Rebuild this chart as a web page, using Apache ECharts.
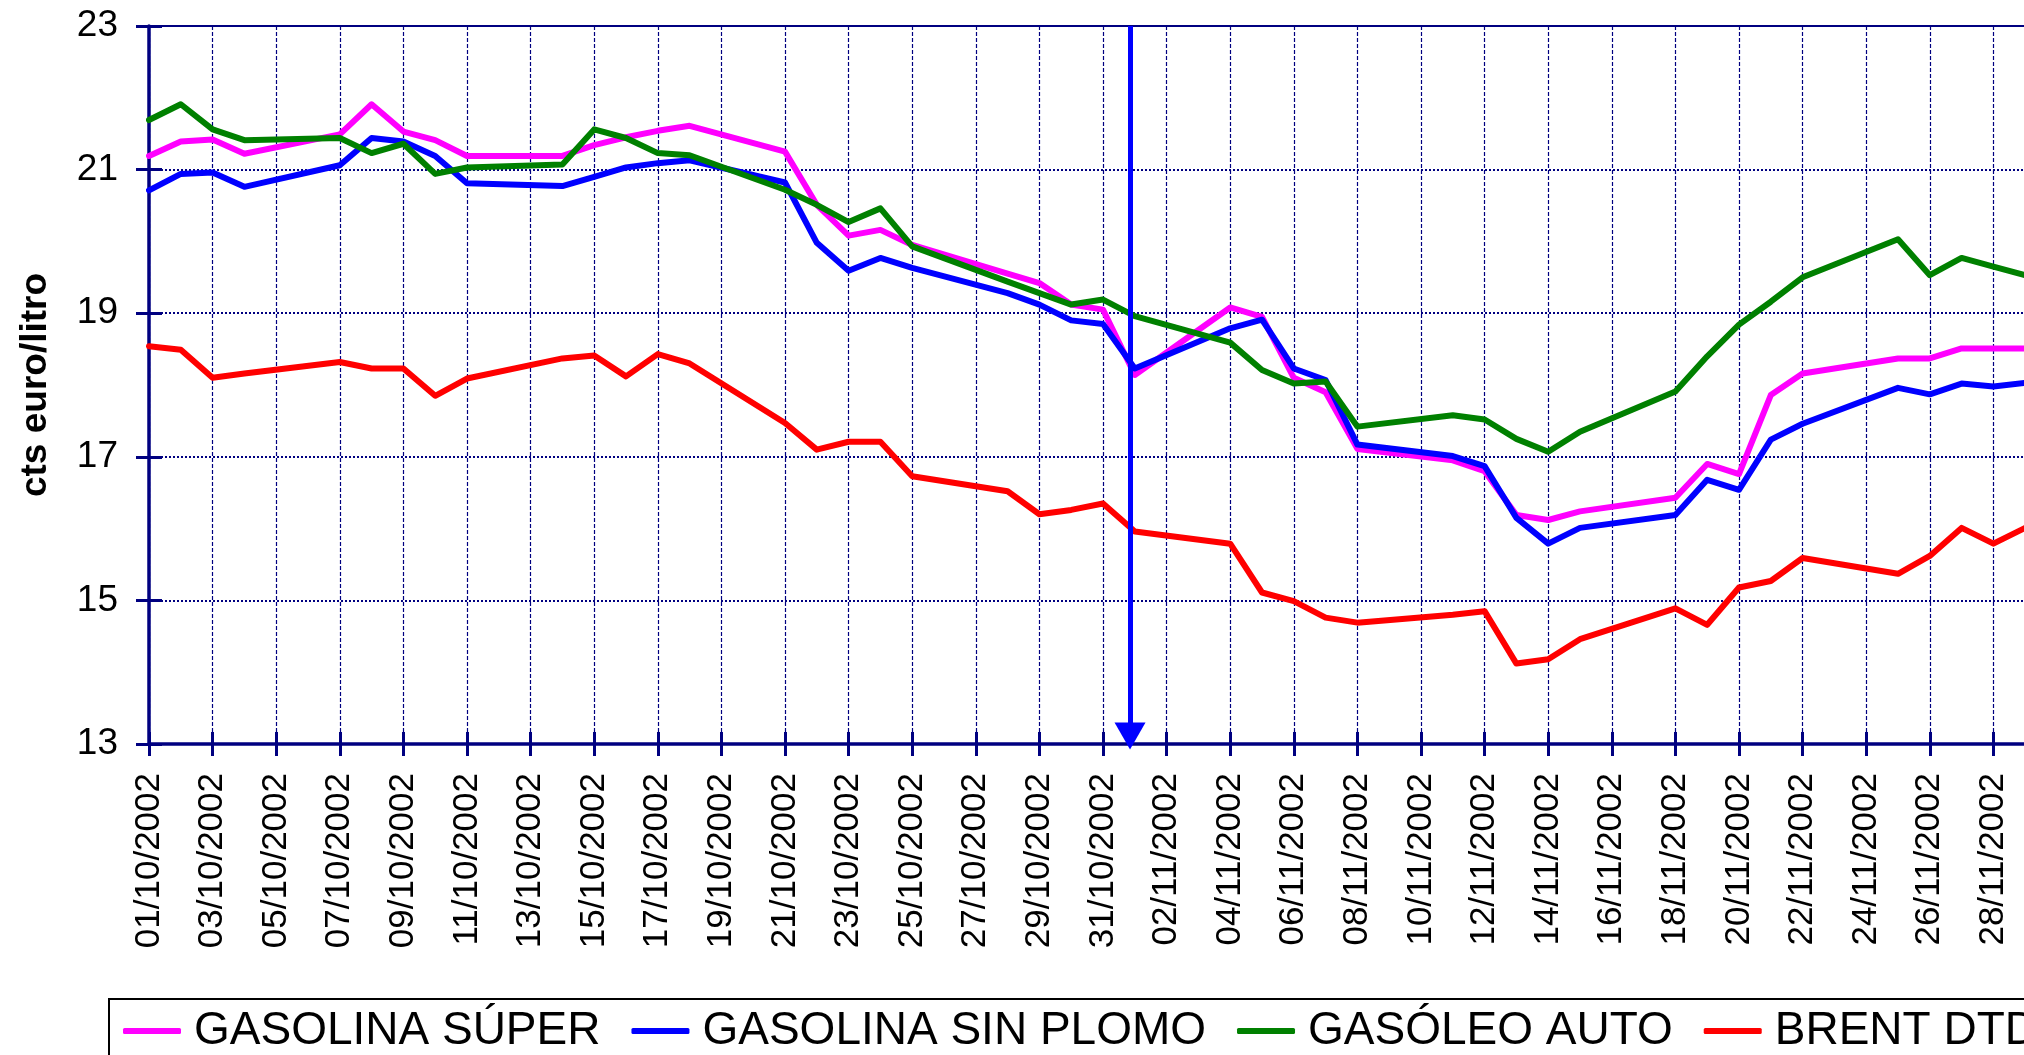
<!DOCTYPE html>
<html>
<head>
<meta charset="utf-8">
<script src="https://cdn.jsdelivr.net/npm/echarts@6/dist/echarts.min.js"></script>
<style>
  html, body { margin: 0; padding: 0; background: #fff; }
  #chart { width: 2024px; height: 1055px; }
</style>
</head>
<body>
<div id="chart"></div>
<script>
// fechas con cotización (días hábiles)
var fechas = [
  '01/10/2002','02/10/2002','03/10/2002','04/10/2002',
  '07/10/2002','08/10/2002','09/10/2002','10/10/2002','11/10/2002',
  '14/10/2002','15/10/2002','16/10/2002','17/10/2002','18/10/2002',
  '21/10/2002','22/10/2002','23/10/2002','24/10/2002','25/10/2002',
  '28/10/2002','29/10/2002','30/10/2002','31/10/2002','01/11/2002',
  '04/11/2002','05/11/2002','06/11/2002','07/11/2002','08/11/2002',
  '11/11/2002','12/11/2002','13/11/2002','14/11/2002','15/11/2002',
  '18/11/2002','19/11/2002','20/11/2002','21/11/2002','22/11/2002',
  '25/11/2002','26/11/2002','27/11/2002','28/11/2002','29/11/2002'
];

var gasolinaSuper = [
  21.19, 21.39, 21.42, 21.22,
  21.49, 21.91, 21.53, 21.41, 21.19,
  21.19, 21.34, 21.45, 21.54, 21.61,
  21.25, 20.51, 20.08, 20.16, 19.95,
  19.55, 19.42, 19.12, 19.05, 18.14,
  19.08, 18.95, 18.10, 17.90, 17.11,
  16.95, 16.80, 16.19, 16.12, 16.24,
  16.43, 16.90, 16.76, 17.86, 18.16,
  18.37, 18.37, 18.51, 18.51, 18.51
];

var gasolinaSinPlomo = [
  20.71, 20.94, 20.96, 20.76,
  21.06, 21.44, 21.39, 21.19, 20.81,
  20.77, 20.90, 21.03, 21.09, 21.13,
  20.82, 19.98, 19.59, 19.77, 19.63,
  19.28, 19.12, 18.90, 18.85, 18.23,
  18.79, 18.91, 18.23, 18.07, 17.17,
  17.01, 16.87, 16.15, 15.79, 16.01,
  16.19, 16.68, 16.54, 17.24, 17.46,
  17.96, 17.87, 18.02, 17.98, 18.03
];

var gasoleoAuto = [
  21.69, 21.91, 21.56, 21.41,
  21.44, 21.23, 21.36, 20.94, 21.03,
  21.07, 21.56, 21.44, 21.23, 21.20,
  20.72, 20.51, 20.27, 20.46, 19.93,
  19.44, 19.28, 19.12, 19.19, 18.96,
  18.59, 18.21, 18.02, 18.05, 17.42,
  17.58, 17.52, 17.25, 17.07, 17.35,
  17.91, 18.40, 18.84, 19.16, 19.50,
  20.03, 19.53, 19.77, 19.65, 19.53
];

var brentDtd = [
  18.54, 18.49, 18.10, 18.16,
  18.32, 18.23, 18.23, 17.85, 18.09,
  18.37, 18.41, 18.12, 18.43, 18.30,
  17.47, 17.10, 17.21, 17.21, 16.73,
  16.52, 16.20, 16.26, 16.35, 15.96,
  15.79, 15.11, 14.99, 14.76, 14.69,
  14.80, 14.85, 14.12, 14.18, 14.46,
  14.89, 14.66, 15.18, 15.27, 15.59,
  15.37, 15.62, 16.01, 15.79, 16.01
];

// etiquetas del eje X (cada dos días)
var etiquetasX = [
  '01/10/2002','03/10/2002','05/10/2002','07/10/2002','09/10/2002','11/10/2002',
  '13/10/2002','15/10/2002','17/10/2002','19/10/2002','21/10/2002','23/10/2002',
  '25/10/2002','27/10/2002','29/10/2002','31/10/2002','02/11/2002','04/11/2002',
  '06/11/2002','08/11/2002','10/11/2002','12/11/2002','14/11/2002','16/11/2002',
  '18/11/2002','20/11/2002','22/11/2002','24/11/2002','26/11/2002','28/11/2002',
  '30/11/2002'
];

var nombres = ['GASOLINA SÚPER', 'GASOLINA SIN PLOMO', 'GASÓLEO AUTO', 'BRENT DTD'];
var colores = ['#ff00ff', '#0000ff', '#008000', '#ff0000'];

// día de la flecha (01/11/2002, dibujada a mano en el original)
var diaFlecha = 30.85;

var fuente = 'Liberation Sans, Arial, sans-serif';
var azulEje = '#000080';

function diaIndice(s) {
    var p = s.split('/');
    return Math.round((Date.UTC(+p[2], +p[1] - 1, +p[0]) - Date.UTC(2002, 9, 1)) / 86400000);
}

function pares(valores) {
    return fechas.map(function (f, i) { return [diaIndice(f), valores[i]]; });
}

var chart = echarts.init(document.getElementById('chart'));

var lineas = [gasolinaSuper, gasolinaSinPlomo, gasoleoAuto, brentDtd].map(function (v, i) {
    return {
        name: nombres[i],
        type: 'line',
        data: pares(v),
        showSymbol: false,
        symbol: 'none',
        color: colores[i],
        lineStyle: { color: colores[i], width: 6, join: 'round', cap: 'round' },
        emphasis: { disabled: true },
        z: 3
    };
});

lineas[3].markLine = {
    silent: true,
    animation: false,
    label: { show: false },
    lineStyle: { color: '#0000ff', width: 5, type: 'solid' },
    symbol: ['none', 'triangle'],
    data: [[
        { coord: [diaFlecha, 23], symbol: 'none' },
        { coord: [diaFlecha, 13.11], symbol: 'triangle', symbolSize: [31, 27] }
    ]],
    z: 10
};

option = {
    animation: false,
    backgroundColor: '#fff',
    grid: [
        { left: 149, right: -33, top: 26, bottom: 311, show: true, outerBoundsMode: 'none',
          borderColor: azulEje, borderWidth: 2, backgroundColor: 'transparent' },
        { left: 149, right: -33, top: 26, bottom: 311, outerBoundsMode: 'none' }
    ],
    legend: {
        data: nombres,
        left: 109,
        top: 999,
        width: 2400,
        orient: 'horizontal',
        selectedMode: false,
        icon: 'roundRect',
        itemWidth: 58,
        itemHeight: 6,
        itemGap: 31,
        padding: [6, 10, 6, 14],
        borderColor: '#000',
        borderWidth: 2,
        textStyle: { fontSize: 46, color: '#000', fontFamily: fuente, lineHeight: 52, padding: [0, 0, 0, 8] }
    },
    xAxis: [
        {
            type: 'value',
            gridIndex: 0,
            min: 0,
            max: 60,
            interval: 2,
            axisLine: { show: true, lineStyle: { color: azulEje, width: 3.5 } },
            axisTick: { show: true, inside: false, length: 12, lineStyle: { color: azulEje, width: 3 } },
            axisLabel: {
                rotate: 90,
                margin: 29,
                fontSize: 35,
                color: '#000',
                fontFamily: fuente,
                formatter: function (v) { return etiquetasX[Math.round(v / 2)] || ''; }
            },
            splitLine: { show: true, lineStyle: { color: azulEje, width: 1.2, type: [4, 2] } }
        },
        {
            type: 'value',
            gridIndex: 1,
            min: 0,
            max: 60,
            interval: 2,
            axisLine: { show: false },
            axisTick: { show: true, inside: true, length: 12, lineStyle: { color: azulEje, width: 3 } },
            axisLabel: { show: false },
            splitLine: { show: false }
        }
    ],
    yAxis: [
        {
            type: 'value',
            gridIndex: 0,
            min: 13,
            max: 23,
            interval: 2,
            name: 'cts euro/litro',
            nameLocation: 'middle',
            nameRotate: 90,
            nameGap: 95,
            nameTextStyle: { fontSize: 37, fontWeight: 'bold', color: '#000', fontFamily: fuente },
            axisLine: { show: true, lineStyle: { color: azulEje, width: 3.5 } },
            axisTick: { show: true, inside: false, length: 13, lineStyle: { color: azulEje, width: 3 } },
            axisLabel: { margin: 31, fontSize: 37, color: '#000', fontFamily: fuente },
            splitLine: { show: true, lineStyle: { color: azulEje, width: 2, type: 'dotted' } }
        },
        {
            type: 'value',
            gridIndex: 1,
            min: 13,
            max: 23,
            interval: 2,
            axisLine: { show: false },
            axisTick: { show: true, inside: true, length: 13, lineStyle: { color: azulEje, width: 3 } },
            axisLabel: { show: false },
            splitLine: { show: false }
        }
    ],
    series: lineas
};

if (option && typeof option === "object") {
    chart.setOption(option, true);
}
</script>
</body>
</html>
